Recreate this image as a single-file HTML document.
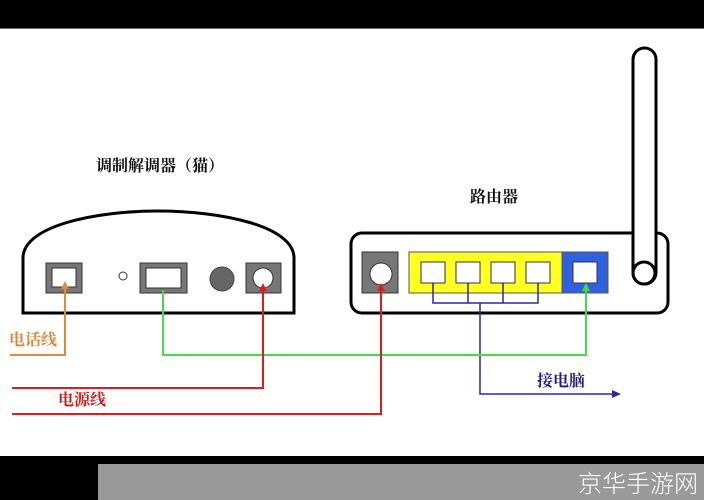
<!DOCTYPE html>
<html><head><meta charset="utf-8"><style>
html,body{margin:0;padding:0;background:#fff;}
svg{display:block;}
text{font-family:"Liberation Serif","Noto Serif CJK SC",serif;font-weight:bold;}
</style></head><body>
<svg width="704" height="500" viewBox="0 0 704 500" xmlns="http://www.w3.org/2000/svg">
<rect x="0" y="0" width="704" height="28" fill="#000"/>
<rect x="0" y="28" width="704" height="1" fill="#666"/>
<rect x="0" y="456" width="704" height="44" fill="#000"/>
<rect x="98" y="464" width="606" height="36" fill="#999"/>
<text x="698" y="492" text-anchor="end" font-size="24" fill="#fff" style="font-family:'Noto Sans CJK SC',sans-serif;font-weight:300">京华手游网</text>

<text x="160" y="171" text-anchor="middle" font-size="16" fill="#111">调制解调器（猫）</text>
<text x="494" y="202" text-anchor="middle" font-size="16" fill="#111">路由器</text>

<!-- modem -->
<path d="M23,313 L23,258 C23,226 95,211 158,211 C221,211 294,226 294,258 L294,313 Z" fill="#fff" stroke="#000" stroke-width="3"/>
<rect x="46" y="263" width="36" height="30" fill="#777" stroke="#333"/>
<rect x="52" y="268" width="24" height="19" fill="#fff" stroke="#333"/>
<circle cx="123" cy="276" r="4" fill="#fff" stroke="#333"/>
<rect x="140" y="263" width="47" height="30" fill="#777" stroke="#333"/>
<rect x="146" y="268" width="35" height="20" fill="#fff" stroke="#333"/>
<circle cx="222" cy="279" r="12" fill="#666" stroke="#444"/>
<rect x="246" y="263" width="35" height="30" fill="#777" stroke="#333"/>
<circle cx="263" cy="278" r="10" fill="#fff" stroke="#333"/>

<!-- router -->
<rect x="351" y="233" width="317" height="80" rx="11" fill="#fff" stroke="#000" stroke-width="3"/>
<rect x="633" y="48" width="23" height="236" rx="11.5" fill="#fff" stroke="#000" stroke-width="3"/>
<circle cx="644" cy="273" r="11" fill="#fff" stroke="#000" stroke-width="3"/>
<rect x="362" y="252" width="36" height="41" fill="#777" stroke="#333"/>
<circle cx="381" cy="274" r="11" fill="#fff" stroke="#333"/>
<rect x="409" y="252" width="153" height="41" fill="#ffff22" stroke="#555"/>
<rect x="562" y="252" width="46" height="41" fill="#2f62e0" stroke="#555"/>
<rect x="421" y="262" width="24" height="21" fill="#fff" stroke="#333"/>
<rect x="456" y="262" width="24" height="21" fill="#fff" stroke="#333"/>
<rect x="491" y="262" width="24" height="21" fill="#fff" stroke="#333"/>
<rect x="526" y="262" width="24" height="21" fill="#fff" stroke="#333"/>
<rect x="573" y="262" width="24" height="21" fill="#fff" stroke="#333"/>

<!-- blue lines -->
<g stroke="#2a2a9a" stroke-width="1.5" fill="none">
<path d="M433,283 V303 H538 V283 M468,283 V303 M503,283 V303 M480,303 V394 H614"/>
</g>
<polygon points="621,394 612,390 612,398" fill="#2a2a9a"/>
<text x="537" y="386" font-size="16" fill="#1e1e8a">接电脑</text>

<!-- orange -->
<path d="M10,355 H65 V287" stroke="#e08a3a" stroke-width="2" fill="none"/>
<polygon points="65,281 61,289 69,289" fill="#e08a3a"/>
<text x="9" y="345" font-size="16" fill="#e0843a">电话线</text>

<!-- green -->
<path d="M163,290 V355 H586 V289" stroke="#44dd44" stroke-width="2" fill="none"/>
<polygon points="586,283 582,291 590,291" fill="#44dd44"/>

<!-- red -->
<path d="M12,388 H263 V289" stroke="#d62020" stroke-width="2" fill="none"/>
<polygon points="263,283 259,291 267,291" fill="#d62020"/>
<path d="M12,414 H381 V289" stroke="#d62020" stroke-width="2" fill="none"/>
<polygon points="381,283 377,291 385,291" fill="#d62020"/>
<text x="58" y="405" font-size="16" fill="#cc1a1a">电源线</text>
</svg>
</body></html>
